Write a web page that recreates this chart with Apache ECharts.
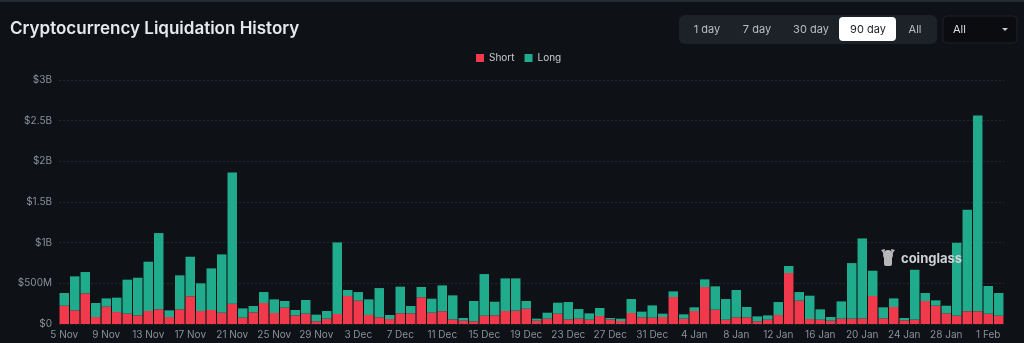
<!DOCTYPE html>
<html>
<head>
<meta charset="utf-8">
<script src="https://cdn.jsdelivr.net/npm/echarts@6/dist/echarts.min.js"></script>
<style>
html,body{margin:0;padding:0;background:#0e1116;}
#c{width:1024px;height:343px;}
</style>
</head>
<body>
<div id="c"></div>
<script>
const categories = ["5 Nov","6 Nov","7 Nov","8 Nov","9 Nov","10 Nov","11 Nov","12 Nov","13 Nov","14 Nov","15 Nov","16 Nov","17 Nov","18 Nov","19 Nov","20 Nov","21 Nov","22 Nov","23 Nov","24 Nov","25 Nov","26 Nov","27 Nov","28 Nov","29 Nov","30 Nov",
"1 Dec","2 Dec","3 Dec","4 Dec","5 Dec","6 Dec","7 Dec","8 Dec","9 Dec","10 Dec","11 Dec","12 Dec","13 Dec","14 Dec","15 Dec","16 Dec","17 Dec","18 Dec","19 Dec","20 Dec","21 Dec","22 Dec","23 Dec","24 Dec","25 Dec","26 Dec","27 Dec","28 Dec","29 Dec","30 Dec","31 Dec",
"1 Jan","2 Jan","3 Jan","4 Jan","5 Jan","6 Jan","7 Jan","8 Jan","9 Jan","10 Jan","11 Jan","12 Jan","13 Jan","14 Jan","15 Jan","16 Jan","17 Jan","18 Jan","19 Jan","20 Jan","21 Jan","22 Jan","23 Jan","24 Jan","25 Jan","26 Jan","27 Jan","28 Jan","29 Jan","30 Jan","31 Jan",
"1 Feb","2 Feb"];

// Short liquidations (millions USD)
const shortVals = [225,168,377,86,213,147,127,106,160,180,86,180,340,160,172,139,250,78,143,
258,135,201,106,127,33,66,123,344,287,111,82,61,131,131,328,139,156,57,41,33,102,106,160,
164,188,41,66,127,57,66,53,98,57,37,135,82,78,86,332,66,160,455,176,53,82,82,33,
53,111,627,287,61,53,41,66,66,70,344,70,209,45,53,283,225,131,102,156,156,127,102];

// Total liquidations (millions USD)
const totalVals = [381,586,639,258,315,324,545,569,766,1118,168,598,827,500,684,856,1863,192,221,
393,303,283,172,295,115,160,1003,418,393,303,442,111,459,221,455,311,475,352,74,283,614,274,561,
561,283,66,139,262,270,184,131,197,74,66,307,152,229,127,401,119,205,549,463,307,418,209,94,
106,270,713,393,348,180,86,278,749,1052,655,205,315,74,667,381,291,225,999,1405,2563,467,381];

const longVals = totalVals.map((t,i)=>Math.max(0,t-shortVals[i]));

const yTicks = {0:"$0",500:"$500M",1000:"$1B",1500:"$1.5B",2000:"$2B",2500:"$2.5B",3000:"$3B"};

const chart = echarts.init(document.getElementById('c'));
const font = "Inter, 'Noto Sans', sans-serif";

const buttons = [
  {t:"1 day", x:707},{t:"7 day", x:757},{t:"30 day", x:811},{t:"90 day", x:868, sel:true},{t:"All", x:915}
];
const graphics = [
  {type:'rect', shape:{x:0,y:0,width:1024,height:2}, style:{fill:'#262a31'}, silent:true},
  {type:'rect', shape:{x:679,y:15,width:258,height:29,r:6}, style:{fill:'#1d2128'}, silent:true},
  {type:'rect', shape:{x:839,y:17,width:57,height:24,r:4}, style:{fill:'#ffffff'}, silent:true},
  {type:'rect', shape:{x:943,y:16,width:74,height:27,r:4}, style:{fill:'#0a0c10', stroke:'#1c2027', lineWidth:1}, silent:true},
  {type:'text', x:953, y:29.5, style:{text:'All', fill:'#d8dbe0', font:"11px "+font, textVerticalAlign:'middle'}, silent:true},
  {type:'polygon', shape:{points:[[1002,28],[1008,28],[1005,31]]}, style:{fill:'#c9ccd1'}, silent:true},
  // watermark
  {type:'group', z:100, children:[
    {type:'circle', shape:{cx:888,cy:255,r:5}, style:{fill:'#b8b8b8'}, z:100},
    {type:'rect', shape:{x:884,y:255,width:8,height:11,r:2}, style:{fill:'#b8b8b8'}, z:100},
    {type:'polygon', shape:{points:[[881,250],[885,249],[884,254]]}, style:{fill:'#b8b8b8'}, z:100},
    {type:'polygon', shape:{points:[[895,250],[891,249],[892,254]]}, style:{fill:'#b8b8b8'}, z:100},
    {type:'text', x:901, y:259.5, z:100, style:{text:'coinglass', fill:'#cfd2d6', font:"bold 13px "+font, textVerticalAlign:'middle'}}
  ]}
];
buttons.forEach(b=>{
  graphics.push({type:'text', x:b.x, y:29.5, style:{text:b.t, fill:b.sel?'#1a1d22':'#b9bec6', font:"11px "+font, textAlign:'center', textVerticalAlign:'middle'}, silent:true});
});

chart.setOption({
  backgroundColor:'#0e1116',
  animation:false,
  title:{text:'Cryptocurrency Liquidation History', left:5, top:15,
    textStyle:{color:'#e6e8eb', fontSize:17, fontWeight:600, fontFamily:font}},
  legend:{data:['Short','Long'], top:48, left:471, itemWidth:8, itemHeight:8, itemGap:10,
    icon:'rect', textStyle:{color:'#c9ccd1', fontSize:10, fontFamily:font}},
  grid:{left:59, right:20, top:80, bottom:19},
  xAxis:{type:'category', data:categories,
    axisLine:{show:false}, axisTick:{show:false},
    axisLabel:{interval:3, color:'#8b9099', fontSize:10, fontFamily:font, margin:6}},
  yAxis:{type:'value', min:0, max:3000, interval:500,
    axisLabel:{formatter:v=>yTicks[v]||'', color:'#8b9099', fontSize:10, fontFamily:font, margin:7},
    splitLine:{lineStyle:{color:'#23272e', type:[2,2]}}},
  series:[
    {name:'Short', type:'bar', stack:'liq', data:shortVals, barCategoryGap:'10%', itemStyle:{color:'#f0394b'}},
    {name:'Long', type:'bar', stack:'liq', data:longVals, barCategoryGap:'10%', itemStyle:{color:'#20ab8c'}}
  ],
  graphic:graphics
});
</script>
</body>
</html>
